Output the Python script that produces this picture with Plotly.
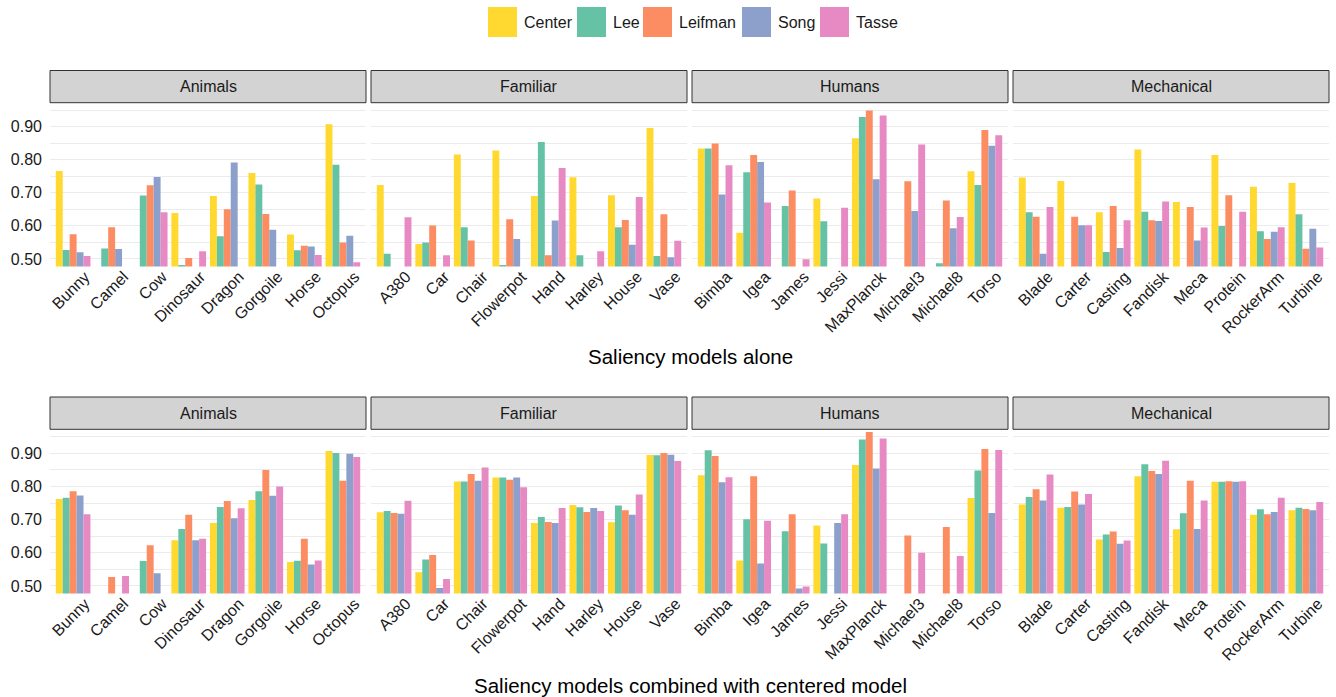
import plotly.graph_objects as go

W, H = 1336, 697

groups = ["Animals", "Familiar", "Humans", "Mechanical"]
objects = [
    ["Bunny", "Camel", "Cow", "Dinosaur", "Dragon", "Gorgoile", "Horse", "Octopus"],
    ["A380", "Car", "Chair", "Flowerpot", "Hand", "Harley", "House", "Vase"],
    ["Bimba", "Igea", "James", "Jessi", "MaxPlanck", "Michael3", "Michael8", "Torso"],
    ["Blade", "Carter", "Casting", "Fandisk", "Meca", "Protein", "RockerArm", "Turbine"],
]
series = ["Center", "Lee", "Leifman", "Song", "Tasse"]
colors = ["#FFD92F", "#66C2A5", "#FC8D62", "#8DA0CB", "#E78AC3"]
row_titles = ["Saliency models alone", "Saliency models combined with centered model"]
y_ticks = [0.5, 0.6, 0.7, 0.8, 0.9]
y_tick_text = ["0.50", "0.60", "0.70", "0.80", "0.90"]
y_minor = [0.55, 0.65, 0.75, 0.85, 0.95]
y_range = [0.4775, 0.9725]

N = None
# Saliency models alone (order: Animals, Familiar, Humans, Mechanical)
alone_center = [0.766, N, N, 0.639, 0.690, 0.760, 0.574, 0.907,
                0.724, 0.545, 0.816, 0.828, 0.690, 0.747, 0.693, 0.896,
                0.834, 0.579, N, 0.683, 0.865, N, N, 0.765,
                0.746, 0.736, 0.641, 0.831, 0.672, 0.814, 0.718, 0.730]
alone_lee = [0.527, 0.532, 0.692, 0.482, 0.569, 0.725, 0.526, 0.785,
             0.516, 0.550, 0.596, 0.482, 0.854, 0.511, 0.596, 0.509,
             0.834, 0.762, 0.660, 0.614, 0.929, N, 0.487, 0.724,
             0.641, N, 0.521, 0.643, N, 0.600, 0.584, 0.635]
alone_leifman = [0.575, 0.596, 0.723, 0.503, 0.650, 0.636, 0.540, 0.550,
                 N, 0.601, 0.556, 0.620, 0.511, N, 0.618, 0.635,
                 0.849, 0.814, 0.707, N, 0.949, 0.735, 0.677, 0.890,
                 0.628, 0.628, 0.660, 0.617, 0.657, 0.693, 0.560, 0.531]
alone_song = [0.520, 0.530, 0.748, N, 0.792, 0.588, 0.538, 0.570,
              N, N, N, 0.560, 0.616, N, 0.543, 0.505,
              0.695, 0.793, N, N, 0.741, 0.645, 0.593, 0.842,
              0.516, 0.602, 0.533, 0.615, 0.556, N, 0.582, 0.591]
alone_tasse = [0.509, N, 0.641, 0.523, N, N, 0.512, 0.490,
               0.626, 0.511, N, N, 0.775, 0.523, 0.687, 0.555,
               0.783, 0.671, 0.499, 0.655, 0.934, 0.846, 0.627, 0.874,
               0.657, 0.602, 0.617, 0.674, 0.595, 0.643, 0.596, 0.535]

# Saliency models combined with centered model
comb_center = [0.762, N, N, 0.638, 0.690, 0.759, 0.572, 0.907,
               0.722, 0.541, 0.815, 0.827, 0.690, 0.744, 0.692, 0.895,
               0.834, 0.577, N, 0.682, 0.865, N, N, 0.765,
               0.746, 0.736, 0.640, 0.831, 0.671, 0.814, 0.715, 0.728]
comb_lee = [0.766, N, 0.575, 0.672, 0.738, 0.786, 0.576, 0.901,
            0.726, 0.580, 0.815, 0.827, 0.708, 0.737, 0.743, 0.894,
            0.909, 0.701, 0.665, 0.628, 0.942, N, N, 0.848,
            0.768, 0.738, 0.655, 0.867, 0.719, 0.814, 0.731, 0.736]
comb_leifman = [0.786, 0.527, 0.623, 0.715, 0.756, 0.850, 0.642, 0.817,
                0.720, 0.593, 0.838, 0.820, 0.693, 0.723, 0.728, 0.901,
                0.892, 0.831, 0.716, N, 0.964, 0.652, 0.678, 0.913,
                0.792, 0.785, 0.664, 0.847, 0.817, 0.816, 0.716, 0.732]
comb_song = [0.773, N, 0.538, 0.638, 0.704, 0.772, 0.565, 0.899,
             0.718, 0.494, 0.817, 0.827, 0.690, 0.735, 0.715, 0.896,
             0.813, 0.568, 0.492, 0.690, 0.854, N, N, 0.720,
             0.758, 0.746, 0.627, 0.838, 0.672, 0.814, 0.723, 0.728]
comb_tasse = [0.716, 0.530, N, 0.642, 0.734, 0.800, 0.577, 0.889,
              0.757, 0.521, 0.857, 0.798, 0.735, 0.726, 0.776, 0.877,
              0.828, 0.697, 0.498, 0.716, 0.945, 0.600, 0.590, 0.910,
              0.836, 0.777, 0.637, 0.878, 0.758, 0.816, 0.766, 0.753]

rows_data = [
    [alone_center, alone_lee, alone_leifman, alone_song, alone_tasse],
    [comb_center, comb_lee, comb_leifman, comb_song, comb_tasse],
]

FONT = "Liberation Sans, Arial, sans-serif"
TXT = "#1A1A1A"

# layout geometry (pixels)
panel_x = [(50, 366), (371, 687), (692, 1008), (1013, 1329)]
panel_y = [(102.7, 266.4), (429.3, 593.4)]
strip_y = [(70.5, 102.7), (397.0, 429.3)]
title_y = [356, 685]

def px(x):
    return x / W

def py(y):
    return 1 - y / H

fig = go.Figure()
layout = dict(
    width=W, height=H, margin=dict(l=0, r=0, t=0, b=0, autoexpand=False),
    paper_bgcolor="white", plot_bgcolor="white",
    barmode="group", bargap=0.1, bargroupgap=0.0,
    showlegend=False, font=dict(family=FONT, color=TXT, size=16),
)
shapes = []
annotations = []

for r in range(2):
    for g in range(4):
        idx = r * 4 + g + 1
        xa = "x" if idx == 1 else f"x{idx}"
        ya = "y" if idx == 1 else f"y{idx}"
        cats = objects[g]
        for s in range(5):
            vals = rows_data[r][s][g * 8:(g + 1) * 8]
            fig.add_trace(go.Bar(
                x=cats, y=vals, name=series[s], marker_color=colors[s],
                marker_line_width=0, xaxis=xa, yaxis=ya, offsetgroup=str(s),
            ))
        x0, x1 = panel_x[g]
        y0, y1 = panel_y[r]
        layout["xaxis" if idx == 1 else f"xaxis{idx}"] = dict(
            domain=[px(x0), px(x1)], anchor=ya, type="category", automargin=False,
            range=[-0.6, 7.6], showgrid=False, zeroline=False, showline=False,
            ticks="", tickangle=-45, tickfont=dict(size=16, color=TXT),
            ticklabelshift=12, ticklabelstandoff=-3,
            categoryorder="array", categoryarray=cats,
        )
        layout["yaxis" if idx == 1 else f"yaxis{idx}"] = dict(
            domain=[py(y1), py(y0)], anchor=xa, range=y_range, automargin=False,
            tickvals=y_ticks, ticktext=y_tick_text, showticklabels=(g == 0),
            showgrid=True, gridcolor="#EBEBEB", gridwidth=1.1,
            zeroline=False, showline=False, ticks="", ticklabelstandoff=7,
            tickfont=dict(size=16, color=TXT),
            minor=dict(tickvals=y_minor, showgrid=True, gridcolor="#EBEBEB", gridwidth=0.6),
        )
        sy0, sy1 = strip_y[r]
        shapes.append(dict(type="rect", xref="paper", yref="paper",
                           x0=px(x0), x1=px(x1), y0=py(sy1), y1=py(sy0),
                           fillcolor="#D3D3D3", line=dict(color="#333333", width=1)))
        annotations.append(dict(text=groups[g], xref="paper", yref="paper",
                                x=px((x0 + x1) / 2), y=py((sy0 + sy1) / 2),
                                showarrow=False, xanchor="center", yanchor="middle",
                                font=dict(size=16, color=TXT)))
    annotations.append(dict(text=row_titles[r], xref="paper", yref="paper",
                            x=px(690), y=py(title_y[r]), showarrow=False,
                            xanchor="center", yanchor="middle",
                            font=dict(size=20.5, color="black")))

# legend (custom, top centre)
leg_sq_x = [488, 577, 643, 742, 820]
for s in range(5):
    x0 = leg_sq_x[s]
    shapes.append(dict(type="rect", xref="paper", yref="paper",
                       x0=px(x0), x1=px(x0 + 29), y0=py(37), y1=py(7),
                       fillcolor=colors[s], line=dict(width=0)))
    annotations.append(dict(text=series[s], xref="paper", yref="paper",
                            x=px(x0 + 34), y=py(22), showarrow=False,
                            xanchor="left", yanchor="middle",
                            font=dict(size=16, color=TXT)))

layout["shapes"] = shapes
layout["annotations"] = annotations
fig.update_layout(**layout)

fig.write_html("out.html", config={"displayModeBar": False})
with open("out.html", "r", encoding="utf-8") as f:
    html = f.read()
html = html.replace("<body>", "<body style=\"margin:0;padding:0;\">", 1)
with open("out.html", "w", encoding="utf-8") as f:
    f.write(html)
